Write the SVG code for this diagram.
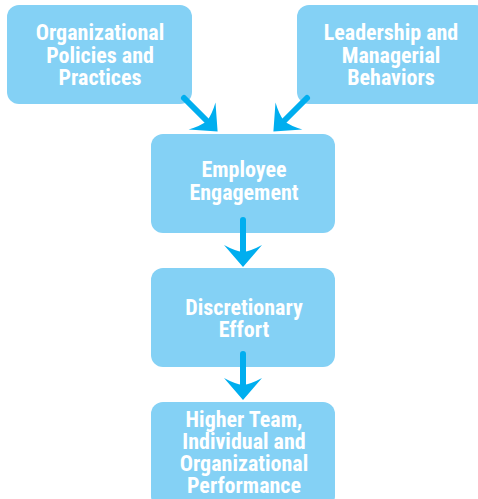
<svg xmlns="http://www.w3.org/2000/svg" width="478" height="499" viewBox="0 0 478 499">
<style>
.box{fill:#84D1F5}
.t{font-family:"Liberation Sans Narrow","Roboto Condensed","DejaVu Sans Condensed","Liberation Sans",sans-serif;font-weight:bold;font-size:22px;fill:#ffffff;text-anchor:middle}
.c{stroke:#00AEEF;stroke-width:6;stroke-linecap:round;fill:none}
</style>
<defs>
<marker id="ah" markerUnits="userSpaceOnUse" viewBox="-10 -22 30 44" markerWidth="30" markerHeight="44" refX="0" refY="0" orient="auto">
<path d="M15,0 L-7,-19 Q-1,-8 0,0 Q-1,8 -7,19 Z" fill="#00AEEF"/>
</marker>
</defs>
<g id="n1">
<rect class="box" x="7" y="5" width="185" height="99" rx="12"/>
<text class="t"><tspan x="100" y="40">Organizational</tspan><tspan x="100" y="63">Policies and</tspan><tspan x="100" y="85">Practices</tspan></text>
</g>
<g id="n2">
<rect class="box" x="297" y="5" width="190" height="99" rx="12"/>
<text class="t"><tspan x="391" y="40">Leadership and</tspan><tspan x="391" y="63">Managerial</tspan><tspan x="391" y="85">Behaviors</tspan></text>
</g>
<g id="n3">
<rect class="box" x="151" y="134" width="184" height="99" rx="12"/>
<text class="t"><tspan x="244" y="177">Employee</tspan><tspan x="244" y="200">Engagement</tspan></text>
</g>
<g id="n4">
<rect class="box" x="151" y="268" width="184" height="99" rx="12"/>
<text class="t"><tspan x="244" y="315">Discretionary</tspan><tspan x="244" y="337">Effort</tspan></text>
</g>
<g id="n5">
<rect class="box" x="151" y="402" width="184" height="106" rx="12"/>
<text class="t"><tspan x="244" y="427">Higher Team,</tspan><tspan x="244" y="449">Individual and</tspan><tspan x="244" y="471">Organizational</tspan><tspan x="244" y="493">Performance</tspan></text>
</g>
<g id="connectors">
<line class="c" x1="184" y1="98" x2="207" y2="121" marker-end="url(#ah)"/>
<line class="c" x1="307" y1="98" x2="284" y2="121" marker-end="url(#ah)"/>
<line class="c" x1="243" y1="220" x2="243" y2="252" marker-end="url(#ah)"/>
<line class="c" x1="243" y1="354" x2="243" y2="385" marker-end="url(#ah)"/>
</g>
</svg>
